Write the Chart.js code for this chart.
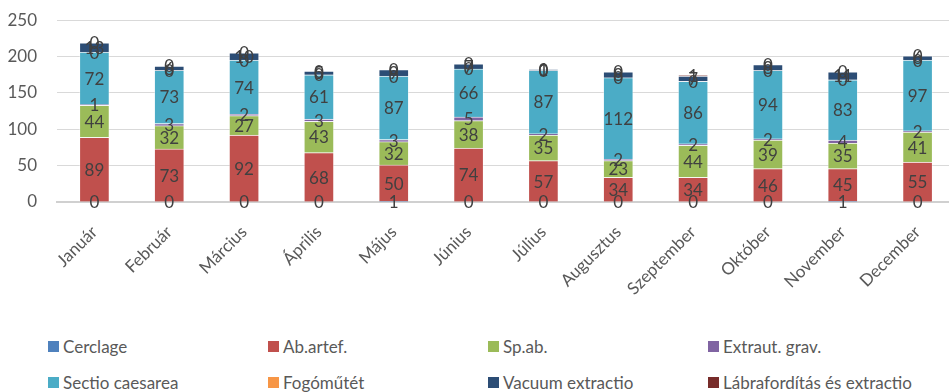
<!DOCTYPE html>
<html>
<head>
<meta charset="utf-8">
<script src="https://cdn.jsdelivr.net/npm/chart.js@4"></script>
<style>
    html, body { margin: 0; padding: 0; background: #fff; overflow: hidden; }
    #wrap { position: relative; width: 949px; height: 392px; overflow: hidden; }
    #wrap canvas { position: absolute; left: 0; top: -10px; }
    #legend { position: absolute; left: 48px; top: 336px; display: grid; grid-template-columns: repeat(4, 220px); row-gap: 16px; }
    .item { display: flex; align-items: center; height: 20px; font: 17px Lato, sans-serif; color: #595959; white-space: nowrap; }
    .item span { display: inline-block; width: 11px; height: 11px; margin-right: 4px; }
</style>
</head>
<body>
<div id="wrap">
    <canvas id="birthChart" width="955" height="320"></canvas>
    <div id="legend"></div>
</div>
<script>
const months = ['Január', 'Február', 'Március', 'Április', 'Május', 'Június', 'Július', 'Augusztus', 'Szeptember', 'Október', 'November', 'December'];

const cerclage = [0, 0, 0, 0, 1, 0, 0, 0, 0, 0, 1, 0];
const abArtef = [89, 73, 92, 68, 50, 74, 57, 34, 34, 46, 45, 55];
const spAb = [44, 32, 27, 43, 32, 38, 35, 23, 44, 39, 35, 41];
const extrautGrav = [1, 3, 2, 3, 3, 5, 2, 2, 2, 2, 4, 2];
const sectio = [72, 73, 74, 61, 87, 66, 87, 112, 86, 94, 83, 97];
const fogo = [0, 0, 0, 0, 0, 0, 0, 0, 0, 0, 0, 0];
const vacuum = [13, 6, 10, 5, 9, 7, 1, 8, 7, 8, 11, 6];
const labra = [0, 0, 0, 0, 0, 0, 0, 0, 1, 0, 0, 0];

const yTicks = [0, 50, 100, 150, 200, 250];

const series = [
    { label: 'Cerclage', data: cerclage, color: '#4F81BD' },
    { label: 'Ab.artef.', data: abArtef, color: '#C0504D' },
    { label: 'Sp.ab.', data: spAb, color: '#9BBB59' },
    { label: 'Extraut. grav.', data: extrautGrav, color: '#8064A2' },
    { label: 'Sectio caesarea', data: sectio, color: '#4BACC6' },
    { label: 'Fogóműtét', data: fogo, color: '#F79646' },
    { label: 'Vacuum extractio', data: vacuum, color: '#2C4D75' },
    { label: 'Lábrafordítás és extractio', data: labra, color: '#772C2A' }
];

// value labels in the middle of every stacked segment, zeros included
const segmentLabels = {
    id: 'segmentLabels',
    afterDatasetsDraw(chart) {
        const ctx = chart.ctx;
        ctx.save();
        ctx.font = '17px Lato, sans-serif';
        ctx.fillStyle = '#404040';
        ctx.textAlign = 'center';
        ctx.textBaseline = 'middle';
        chart.data.datasets.forEach((ds, i) => {
            const meta = chart.getDatasetMeta(i);
            meta.data.forEach((bar, j) => {
                const y = (bar.y + bar.base) / 2;
                ctx.fillText(String(ds.data[j]), bar.x, y + 1);
            });
        });
        ctx.restore();
    }
};

const canvas = document.getElementById('birthChart');

new Chart(canvas, {
    type: 'bar',
    data: {
        labels: months,
        datasets: series.map(s => ({
            label: s.label,
            data: s.data,
            backgroundColor: s.color,
            borderColor: 'rgba(255,255,255,0.35)',
            borderWidth: 1,
            barThickness: 30
        }))
    },
    options: {
        responsive: false,
        animation: false,
        layout: { padding: { top: 10, right: 0, bottom: 0, left: 0 } },
        plugins: {
            legend: { display: false },
            tooltip: { enabled: false }
        },
        scales: {
            x: {
                stacked: true,
                grid: { display: false },
                border: { color: '#d0d0d0', width: 2 },
                ticks: {
                    color: '#595959',
                    font: { family: 'Lato', size: 17 },
                    minRotation: 45,
                    maxRotation: 45,
                    padding: 12
                },
                afterFit(scale) { scale.height = 108; }
            },
            y: {
                stacked: true,
                min: 0,
                max: 250,
                afterBuildTicks(scale) { scale.ticks = yTicks.map(v => ({ value: v })); },
                grid: { color: '#d9d9d9', lineWidth: 1, drawTicks: false },
                border: { display: false },
                ticks: {
                    color: '#595959',
                    font: { family: 'Lato', size: 17 },
                    padding: 20
                },
                afterFit(scale) { scale.width = 57; }
            }
        }
    },
    plugins: [segmentLabels]
});

const legend = document.getElementById('legend');
series.forEach(s => {
    const item = document.createElement('div');
    item.className = 'item';
    const box = document.createElement('span');
    box.style.background = s.color;
    item.appendChild(box);
    item.appendChild(document.createTextNode(s.label));
    legend.appendChild(item);
});
</script>
</body>
</html>
